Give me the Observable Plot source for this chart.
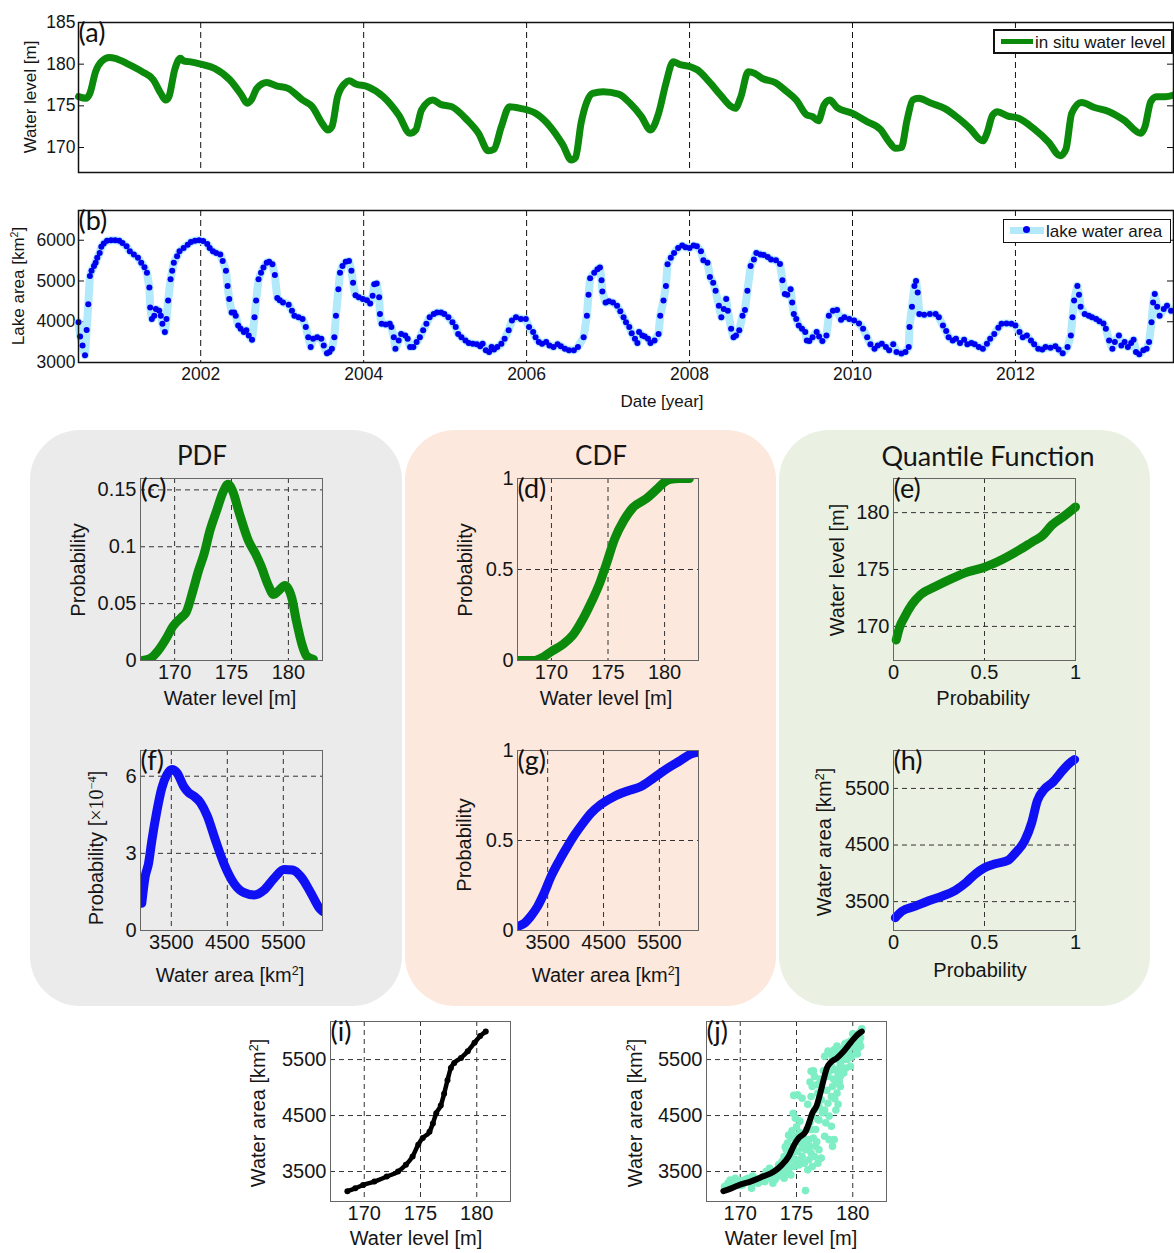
<!DOCTYPE html>
<html><head><meta charset="utf-8">
<script src="https://cdn.jsdelivr.net/npm/d3@7"></script>
<script src="https://cdn.jsdelivr.net/npm/@observablehq/plot@0.6"></script>
<style>
body{margin:0;background:#fff;}
#fig{position:relative;width:1174px;height:1253px;overflow:hidden;font-family:"Liberation Sans",Arial,Helvetica,sans-serif;color:#151515;}
.box{position:absolute;border-radius:50px;}
.lbl{position:absolute;white-space:nowrap;transform:translate(-50%,-50%);line-height:1;}
.lbl sup{font-size:0.62em;vertical-align:0.55em;line-height:0;}
.ttl{font-family:Lato,"Open Sans",sans-serif;}
.leg{position:absolute;background:#fff;border:1.5px solid #111;box-sizing:border-box;font-size:17px;}
</style></head>
<body><div id="fig"></div>
<script>
// ---------- (a) in situ water level ----------
const levelYear = [2000.5,2000.59,2000.64,2000.71,2000.78,2000.88,2000.95,2001.09,2001.28,2001.42,2001.51,2001.57,2001.61,2001.68,2001.75,2001.79,2001.86,2002.0,2002.17,2002.36,2002.5,2002.57,2002.62,2002.69,2002.81,2002.93,2003.07,2003.25,2003.37,2003.49,2003.56,2003.61,2003.68,2003.77,2003.82,2003.91,2004.05,2004.24,2004.43,2004.57,2004.64,2004.71,2004.85,2004.94,2005.08,2005.27,2005.41,2005.53,2005.6,2005.69,2005.79,2005.92,2006.11,2006.29,2006.44,2006.55,2006.6,2006.67,2006.74,2006.81,2006.94,2007.13,2007.27,2007.41,2007.52,2007.62,2007.71,2007.8,2007.87,2008.01,2008.1,2008.24,2008.38,2008.5,2008.56,2008.63,2008.72,2008.8,2008.89,2009.05,2009.17,2009.31,2009.44,2009.51,2009.58,2009.65,2009.72,2009.81,2010.0,2010.18,2010.35,2010.44,2010.53,2010.6,2010.67,2010.74,2010.81,2010.97,2011.13,2011.3,2011.44,2011.6,2011.65,2011.72,2011.78,2011.9,2012.04,2012.22,2012.41,2012.55,2012.62,2012.69,2012.81,2012.97,2013.15,2013.33,2013.54,2013.59,2013.66,2013.73,2013.84,2013.94];
const levelM = [176.1,175.9,176.5,179.1,180.3,180.8,180.7,180.1,179.1,178.1,176.5,175.7,176.1,179.3,180.7,180.4,180.3,180.0,179.5,178.1,176.3,175.3,175.7,177.1,177.8,177.4,177.1,175.7,174.9,172.9,172.1,172.5,176.1,177.7,178.0,177.6,177.3,176.1,173.9,171.7,172.1,174.5,175.7,175.2,174.9,173.3,171.7,169.6,169.8,172.5,174.9,174.7,174.1,172.5,170.4,168.5,168.8,173.0,175.5,176.5,176.7,176.4,175.3,173.7,172.1,174.1,177.7,180.3,180.0,179.7,179.3,177.9,176.3,175.0,174.7,176.1,179.1,178.9,178.3,177.8,176.9,175.7,173.9,173.7,173.2,175.1,175.7,174.8,174.1,173.1,172.1,170.8,169.9,170.0,173.3,175.7,175.9,175.3,174.7,173.5,172.3,170.8,171.7,173.9,174.3,173.8,173.5,172.3,170.6,169.0,169.8,174.1,175.4,174.8,174.3,173.3,171.7,172.5,175.5,176.1,176.1,176.3];

// ---------- (b) lake water area ----------
const areaYear = [2000.5,2000.52,2000.55,2000.58,2000.6,2000.62,2000.64,2000.66,2000.69,2000.71,2000.73,2000.76,2000.78,2000.81,2000.85,2000.9,2000.95,2001.0,2001.04,2001.09,2001.13,2001.18,2001.23,2001.27,2001.31,2001.34,2001.37,2001.38,2001.4,2001.43,2001.45,2001.49,2001.51,2001.53,2001.56,2001.58,2001.6,2001.63,2001.65,2001.67,2001.71,2001.74,2001.79,2001.84,2001.88,2001.93,2001.98,2002.03,2002.08,2002.11,2002.15,2002.19,2002.24,2002.27,2002.31,2002.33,2002.35,2002.38,2002.41,2002.43,2002.46,2002.49,2002.53,2002.56,2002.59,2002.63,2002.66,2002.68,2002.71,2002.74,2002.77,2002.81,2002.84,2002.88,2002.91,2002.94,2002.97,2003.01,2003.08,2003.12,2003.15,2003.2,2003.25,2003.29,2003.32,2003.35,2003.38,2003.43,2003.48,2003.51,2003.55,2003.58,2003.61,2003.64,2003.66,2003.69,2003.71,2003.74,2003.78,2003.82,2003.85,2003.87,2003.9,2003.94,2003.99,2004.04,2004.08,2004.11,2004.13,2004.16,2004.19,2004.2,2004.22,2004.27,2004.32,2004.34,2004.37,2004.39,2004.43,2004.46,2004.51,2004.54,2004.57,2004.61,2004.65,2004.69,2004.73,2004.77,2004.81,2004.86,2004.9,2004.95,2004.99,2005.04,2005.09,2005.13,2005.16,2005.2,2005.25,2005.29,2005.34,2005.39,2005.43,2005.46,2005.5,2005.54,2005.57,2005.6,2005.64,2005.69,2005.73,2005.78,2005.82,2005.87,2005.93,2005.99,2006.03,2006.08,2006.11,2006.15,2006.19,2006.24,2006.28,2006.33,2006.38,2006.42,2006.47,2006.52,2006.58,2006.63,2006.7,2006.74,2006.76,2006.78,2006.83,2006.87,2006.9,2006.92,2006.93,2006.97,2007.01,2007.06,2007.11,2007.15,2007.19,2007.22,2007.26,2007.29,2007.33,2007.36,2007.38,2007.42,2007.45,2007.49,2007.52,2007.57,2007.62,2007.64,2007.68,2007.71,2007.73,2007.77,2007.81,2007.86,2007.91,2007.95,2008.0,2008.05,2008.09,2008.14,2008.17,2008.22,2008.25,2008.29,2008.32,2008.36,2008.39,2008.42,2008.45,2008.47,2008.51,2008.54,2008.57,2008.61,2008.65,2008.68,2008.71,2008.75,2008.79,2008.82,2008.87,2008.91,2008.96,2009.0,2009.06,2009.11,2009.14,2009.17,2009.2,2009.24,2009.26,2009.28,2009.31,2009.34,2009.38,2009.42,2009.44,2009.47,2009.51,2009.56,2009.59,2009.63,2009.68,2009.71,2009.76,2009.81,2009.86,2009.9,2009.96,2010.02,2010.08,2010.13,2010.18,2010.22,2010.27,2010.31,2010.36,2010.41,2010.45,2010.5,2010.54,2010.6,2010.65,2010.69,2010.7,2010.73,2010.76,2010.78,2010.8,2010.82,2010.88,2010.95,2011.02,2011.06,2011.11,2011.15,2011.18,2011.23,2011.27,2011.32,2011.37,2011.41,2011.46,2011.5,2011.55,2011.6,2011.65,2011.69,2011.74,2011.79,2011.83,2011.89,2011.95,2012.0,2012.05,2012.09,2012.14,2012.19,2012.23,2012.28,2012.33,2012.37,2012.43,2012.49,2012.53,2012.58,2012.64,2012.68,2012.7,2012.72,2012.76,2012.78,2012.8,2012.85,2012.9,2012.94,2012.99,2013.03,2013.08,2013.11,2013.15,2013.19,2013.22,2013.27,2013.3,2013.34,2013.38,2013.42,2013.45,2013.48,2013.52,2013.57,2013.61,2013.64,2013.67,2013.69,2013.71,2013.74,2013.77,2013.82,2013.86,2013.91];
const areaKm2 = [3990,3640,3420,3180,3800,4430,5120,5250,5370,5450,5570,5690,5840,5920,5990,6000,6000,5990,5930,5850,5730,5650,5570,5450,5340,5200,4840,4350,4070,4150,4310,4270,4150,3950,3750,4070,4520,5040,5250,5450,5610,5730,5810,5890,5960,5990,6000,5980,5910,5810,5730,5690,5650,5490,5250,4880,4560,4230,4230,4150,3910,3830,3750,3790,3660,3560,4110,4520,5040,5200,5330,5450,5470,5410,5150,4580,4530,4470,4420,4270,4150,4110,4070,3870,3620,3380,3580,3620,3580,3420,3230,3260,3340,3620,4150,4800,5200,5370,5470,5490,5250,4960,4650,4600,4560,4530,4450,4640,4920,4940,4600,4190,3950,3930,3950,3870,3620,3340,3540,3700,3660,3580,3380,3380,3500,3620,3790,3950,4110,4190,4230,4230,4190,4110,3990,3870,3700,3620,3540,3480,3460,3450,3400,3460,3300,3260,3380,3320,3380,3460,3580,3790,4030,4110,4070,4070,3870,3750,3620,3500,3460,3500,3420,3380,3450,3400,3340,3300,3300,3380,3620,4150,4660,5070,5200,5290,5330,5020,4740,4470,4500,4470,4390,4260,4110,3990,3870,3720,3580,3480,3750,3660,3640,3580,3480,3540,3700,4150,4520,4880,5410,5570,5690,5810,5870,5830,5810,5870,5850,5730,5510,5450,5100,4960,4760,4390,4110,4310,4560,4270,3830,3620,3660,3790,4150,4290,4760,5370,5530,5690,5650,5640,5590,5530,5510,5420,5020,4680,4660,4800,4470,4190,4070,3910,3830,3750,3540,3530,3620,3750,3640,3530,3660,4150,4270,4290,4050,4110,4070,4030,3960,3830,3620,3450,3340,3420,3460,3380,3300,3450,3260,3220,3260,3380,3870,4370,4880,5000,4720,4190,4170,4190,4190,4110,3910,3770,3620,3540,3580,3480,3560,3450,3480,3450,3380,3340,3460,3580,3700,3850,3950,3960,3950,3910,3750,3620,3660,3540,3450,3340,3320,3380,3360,3400,3320,3230,3380,3660,4110,4520,4880,4660,4370,4190,4150,4110,4070,4010,3960,3830,3540,3340,3500,3660,3420,3500,3380,3480,3560,3260,3200,3300,3340,3500,3990,4470,4680,4370,4150,4310,4390,4270];
const yearTicks = [2002,2004,2006,2008,2010,2012];

// ---------- (c) PDF of water level ----------
const pdfLevelM = [167.2,167.9,168.5,169.3,169.85,170.6,171.0,171.6,172.1,172.6,173.1,173.7,174.3,174.7,175.1,175.7,176.5,177.1,177.6,178.2,178.7,179.1,179.7,180.3,180.7,181.2,181.6,182.2];
const pdfLevelP = [0,0.002,0.008,0.02,0.03,0.038,0.042,0.061,0.079,0.094,0.114,0.132,0.149,0.155,0.149,0.129,0.105,0.094,0.083,0.067,0.058,0.061,0.066,0.055,0.035,0.014,0.004,0.001];
// ---------- (d) CDF of water level ----------
const cdfLevelM = [167.1,168.4,169.3,170.0,171.0,171.9,172.8,173.6,174.3,174.8,175.6,176.4,177.2,178.4,179.3,180.1,180.5,181.3,182.2];
const cdfLevelP = [0,0,0.02,0.05,0.088,0.14,0.23,0.33,0.43,0.52,0.67,0.77,0.84,0.89,0.94,0.985,0.995,1,1];
// ---------- (e) quantile function of water level ----------
const qLevelP = [0.015,0.033,0.06,0.1,0.15,0.23,0.32,0.41,0.5,0.6,0.69,0.76,0.82,0.87,0.93,0.985,1.0];
const qLevelM = [168.8,169.9,170.8,171.9,172.8,173.5,174.2,174.8,175.2,175.9,176.7,177.4,178.0,178.9,179.6,180.3,180.5];
// ---------- (f) PDF of water area (x 1e-4) ----------
const pdfAreaKm2 = [2973,3033,3093,3153,3243,3332,3422,3512,3602,3722,3811,3901,4021,4141,4290,4440,4620,4800,4980,5160,5335,5515,5665,5815,5995,6144,6204];
const pdfAreaP = [1.06,2.09,2.6,3.5,4.65,5.55,6.06,6.26,6.13,5.6,5.36,5.23,4.97,4.46,3.5,2.6,1.83,1.47,1.38,1.58,2.03,2.37,2.35,2.09,1.45,0.87,0.74];
// ---------- (g) CDF of water area ----------
const cdfAreaKm2 = [2975,3080,3200,3320,3440,3560,3710,3860,3980,4130,4270,4450,4690,4930,5170,5410,5640,5880,6060,6180];
const cdfAreaP = [0.024,0.04,0.08,0.134,0.21,0.3,0.39,0.47,0.53,0.595,0.65,0.7,0.745,0.775,0.8,0.85,0.9,0.945,0.98,0.99];
// ---------- (h) quantile function of water area ----------
const qAreaP = [0.01,0.046,0.12,0.19,0.27,0.34,0.4,0.45,0.5,0.56,0.63,0.67,0.72,0.76,0.79,0.83,0.875,0.93,0.965,0.995];
const qAreaKm2 = [3215,3330,3420,3510,3600,3700,3840,3990,4100,4170,4230,4360,4570,4900,5280,5490,5610,5820,5940,6010];
// ---------- (i)/(j) quantile-matched level vs area ----------
const qqLevelM = [168.5,169.2,169.9,170.9,172.0,173.0,173.7,174.3,174.8,175.2,175.8,176.1,176.4,176.8,177.1,177.4,177.7,178.0,178.6,179.2,179.8,180.3,180.8];
const qqAreaKm2 = [3150,3200,3260,3320,3410,3500,3620,3770,3980,4100,4210,4360,4540,4680,4890,5130,5350,5440,5530,5650,5800,5920,6000];
// ---------- (j) observed pairs ----------
const pairLevelM = [168.6,168.9,169.1,169.35,169.55,169.8,170.1,170.2,170.5,170.8,171.0,171.3,171.6,171.7,172.0,172.2,172.4,172.7,172.9,173.0,173.3,173.5,173.6,173.8,173.9,174.1,174.2,174.4,174.5,174.7,
 173.9,174.1,174.2,174.4,174.5,174.75,174.9,175.0,175.1,175.25,175.4,175.5,175.7,175.8,176.0,176.1,176.3,176.4,176.6,176.9,176.7,177.0,177.2,
 175.8,174.7,175.1,175.5,174.75,
 176.1,176.3,176.4,176.6,176.7,176.9,177.0,177.2,176.3,176.4,176.3,176.6,176.9,177.3,177.5,177.6,177.8,177.9,178.1,178.2,178.1,178.35,178.5,178.6,178.8,178.9,177.5,177.9,178.2,178.6,177.8,
 177.5,177.8,178.1,178.35,178.6,178.9,179.2,179.5,179.8,180.1,180.4,180.6,180.7,180.3,179.7,179.2,178.9,179.4,178.6,179.1,180.0,180.6,180.7,179.8,179.5,178.1,178.2,178.5,179.2,178.9,
 168.8,169.2,169.6,170.0,170.4,170.7,171.1,171.4,171.9,172.3,172.6,172.8,173.1,173.4,173.7,174.0,174.3,174.6,174.9,175.2,
 174.0,174.3,174.6,175.0,175.3,175.6,175.9,176.2,175.5,176.5,176.8,175.9,176.2,175.3,174.9,
 176.0,176.2,176.5,176.8,177.1,177.4,177.7,178.0,178.4,178.7,177.3,177.0,178.3,
 178.4,178.8,179.3,179.6,180.0,180.2,180.5,180.8,179.0,179.9,180.4,178.7];
const pairAreaKm2 = [3230,3290,3350,3260,3380,3300,3340,3260,3360,3320,3200,3380,3290,3350,3410,3320,3440,3380,3290,3500,3410,3540,3470,3590,3380,3650,3530,3710,3440,3590,
 3770,3890,4010,3830,4100,3950,3710,4130,3860,3620,4010,3770,3650,3890,3530,3710,3830,3590,3770,3650,3950,3890,3740,
 3160,4540,4870,4810,4860,
 4070,4250,4490,4600,4250,4430,4660,4780,4840,5020,5290,5200,4900,4960,4600,4370,4720,4490,4840,5020,4310,4070,4600,4900,5110,5020,4130,4070,3950,5080,5200,
 5560,5650,5590,5680,5740,5650,5710,5800,5830,5890,5950,5830,5740,5680,5590,5500,5410,5350,5500,5560,5740,5980,5890,5380,5500,5380,5500,5320,5260,5200,
 3200,3230,3300,3250,3300,3380,3420,3300,3330,3500,3560,3440,3360,3620,3680,3480,3560,3800,3600,3700,
 3940,4150,4230,4300,4200,4100,4020,3950,3930,4100,4030,4250,4380,4400,4450,
 4700,5100,5300,5050,5150,5300,4950,5300,4800,4700,4550,4420,5150,
 5580,5600,5780,5650,5960,5800,5700,6050,5330,5550,5600,5250];

// ================= drawing =================
const fig = document.getElementById("fig");
const FONT = '"Liberation Sans", Arial, Helvetica, sans-serif';
const CAL = 'Lato, "Open Sans", sans-serif';
const GREEN = "#0c8a0c", BLUE = "#1010f5";
const dash = {stroke: "#333", strokeDasharray: "5,4", strokeWidth: 1};
const smooth = "monotone-x";

function box(left, top, w, h, color) {
  const d = document.createElement("div");
  d.className = "box";
  Object.assign(d.style, {left: left + "px", top: top + "px", width: w + "px", height: h + "px", background: color});
  fig.append(d);
}
function lab(html, x, y, size = 20, rot = false, cls = "") {
  const d = document.createElement("div");
  d.className = "lbl " + cls;
  d.innerHTML = html;
  d.style.left = x + "px"; d.style.top = y + "px"; d.style.fontSize = size + "px";
  if (rot) d.style.transform = "translate(-50%,-50%) rotate(-90deg)";
  fig.append(d);
}
function panel({left, top, w, h, x, y, marks, fs = 20}) {
  const ML = 80, MR = 10, MT = 10, MB = 40;
  const svg = Plot.plot({
    width: w + ML + MR, height: h + MT + MB,
    marginLeft: ML, marginRight: MR, marginTop: MT, marginBottom: MB,
    style: {fontSize: fs + "px", fontFamily: FONT, color: "#151515", background: "transparent", overflow: "visible", maxWidth: "none"},
    x, y, marks
  });
  svg.style.position = "absolute";
  svg.style.left = (left - ML) + "px";
  svg.style.top = (top - MT) + "px";
  fig.append(svg);
}
const tag = (t) => Plot.text([t], {frameAnchor: "top-left", dx: 0, dy: 0, lineAnchor: "top", textAnchor: "start", fontSize: 27, fontFamily: CAL, fill: "#111"});
const ax = (domain, ticks, extra = {}) => ({domain, ticks, tickSize: 0, tickPadding: 4, tickFormat: d => String(d), label: null, ...extra});

// background boxes
box(30, 430, 372, 576, "#ebebeb");
box(405, 430, 371, 576, "#fce8dd");
box(779, 430, 371, 576, "#eaf1e2");

// (a)
panel({left: 78, top: 22, w: 1095, h: 150, fs: 17.5,
  x: {domain: [2000.5, 2013.94], axis: null},
  y: ax([167, 185], [170, 175, 180, 185], {tickPadding: 3}),
  marks: [
    Plot.ruleX(yearTicks, {stroke: "#111", strokeDasharray: "6,4"}),
    Plot.tickY([170, 175, 180], {insetRight: 1089, stroke: "#111"}),
    Plot.tickY([170, 175, 180], {insetLeft: 1089, stroke: "#111"}),
    Plot.line(levelM, {x: levelYear, y: levelM, stroke: GREEN, strokeWidth: 7, curve: smooth}),
    Plot.frame({stroke: "#111", strokeWidth: 1.5}),
    tag("(a)")
  ]});
// (b)
panel({left: 78, top: 210, w: 1095, h: 152, fs: 17.5,
  x: ax([2000.5, 2013.94], yearTicks, {tickPadding: 5}),
  y: ax([3000, 6730], [3000, 4000, 5000, 6000], {tickPadding: 3}),
  marks: [
    Plot.ruleX(yearTicks, {stroke: "#111", strokeDasharray: "6,4"}),
    Plot.tickY([4000, 5000, 6000], {insetRight: 1089, stroke: "#111"}),
    Plot.tickY([4000, 5000, 6000], {insetLeft: 1089, stroke: "#111"}),
    Plot.line(areaKm2, {x: areaYear, y: areaKm2, stroke: "#b2e9fb", strokeWidth: 8}),
    Plot.dot(areaKm2, {x: areaYear, y: areaKm2, r: 3, fill: "#0000f0", stroke: "none"}),
    Plot.frame({stroke: "#111", strokeWidth: 1.5}),
    tag("(b)")
  ]});

// (c)
panel({left: 140, top: 478, w: 182, h: 182,
  x: ax([167, 183], [170, 175, 180]), y: ax([0, 0.16], [0, 0.05, 0.1, 0.15]),
  marks: [Plot.ruleX([170, 175, 180], dash), Plot.ruleY([0.05, 0.1, 0.15], dash),
    Plot.line(pdfLevelP, {x: pdfLevelM, y: pdfLevelP, stroke: GREEN, strokeWidth: 9, clip: true, curve: smooth}),
    Plot.frame({stroke: "#666"}), tag("(c)")]});
// (d)
panel({left: 517, top: 478, w: 181, h: 182,
  x: ax([167, 183], [170, 175, 180]), y: ax([0, 1], [0, 0.5, 1]),
  marks: [Plot.ruleX([170, 175, 180], dash), Plot.ruleY([0.5], dash),
    Plot.line(cdfLevelP, {x: cdfLevelM, y: cdfLevelP, stroke: GREEN, strokeWidth: 9, clip: true, curve: smooth}),
    Plot.frame({stroke: "#666"}), tag("(d)")]});
// (e)
panel({left: 893, top: 478, w: 182, h: 182,
  x: ax([0, 1], [0, 0.5, 1]), y: ax([167, 183], [170, 175, 180]),
  marks: [Plot.ruleX([0.5], dash), Plot.ruleY([170, 175, 180], dash),
    Plot.line(qLevelM, {x: qLevelP, y: qLevelM, stroke: GREEN, strokeWidth: 9, curve: smooth}),
    Plot.frame({stroke: "#666"}), tag("(e)")]});
// (f)
panel({left: 140, top: 750, w: 182, h: 180,
  x: ax([2950, 6200], [3500, 4500, 5500]), y: ax([0, 7], [0, 3, 6]),
  marks: [Plot.ruleX([3500, 4500, 5500], dash), Plot.ruleY([3, 6], dash),
    Plot.line(pdfAreaP, {x: pdfAreaKm2, y: pdfAreaP, stroke: BLUE, strokeWidth: 9, clip: true, curve: smooth}),
    Plot.frame({stroke: "#666"}), tag("(f)")]});
// (g)
panel({left: 517, top: 750, w: 181, h: 180,
  x: ax([2960, 6200], [3500, 4500, 5500]), y: ax([0, 1], [0, 0.5, 1]),
  marks: [Plot.ruleX([3500, 4500, 5500], dash), Plot.ruleY([0.5], dash),
    Plot.line(cdfAreaP, {x: cdfAreaKm2, y: cdfAreaP, stroke: BLUE, strokeWidth: 9, clip: true, curve: smooth}),
    Plot.frame({stroke: "#666"}), tag("(g)")]});
// (h)
panel({left: 893, top: 750, w: 182, h: 180,
  x: ax([0, 1], [0, 0.5, 1]), y: ax([2990, 6170], [3500, 4500, 5500]),
  marks: [Plot.ruleX([0.5], dash), Plot.ruleY([3500, 4500, 5500], dash),
    Plot.line(qAreaKm2, {x: qAreaP, y: qAreaKm2, stroke: BLUE, strokeWidth: 9, curve: smooth}),
    Plot.frame({stroke: "#666"}), tag("(h)")]});
// (i)
panel({left: 330, top: 1021, w: 180, h: 180,
  x: ax([167, 183], [170, 175, 180]), y: ax([2965, 6180], [3500, 4500, 5500]),
  marks: [Plot.ruleX([170, 175, 180], dash), Plot.ruleY([3500, 4500, 5500], dash),
    Plot.line(qqAreaKm2, {x: qqLevelM, y: qqAreaKm2, stroke: "#000", strokeWidth: 4.5, curve: smooth}),
    Plot.dot(qqAreaKm2, {x: qqLevelM, y: qqAreaKm2, r: 3, fill: "#000", stroke: "none"}),
    Plot.frame({stroke: "#666"}), tag("(i)")]});
// (j)
panel({left: 706, top: 1021, w: 180, h: 180,
  x: ax([167, 183], [170, 175, 180]), y: ax([2965, 6180], [3500, 4500, 5500]),
  marks: [Plot.ruleX([170, 175, 180], dash), Plot.ruleY([3500, 4500, 5500], dash),
    Plot.dot(pairAreaKm2, {x: pairLevelM, y: pairAreaKm2, r: 3.8, fill: "#7eeec4", stroke: "none"}),
    Plot.line(qqAreaKm2, {x: qqLevelM, y: qqAreaKm2, stroke: "#000", strokeWidth: 6, curve: smooth}),
    Plot.frame({stroke: "#666"}), tag("(j)")]});

// axis labels and titles
lab("Water level [m]", 30, 97, 17, true);
lab("Lake area [km<sup>2</sup>]", 18, 286, 17, true);
lab("Date [year]", 662, 401, 17);
lab("PDF", 202, 455, 26, false, "ttl");
lab("CDF", 601, 455, 26, false, "ttl");
lab("Quantile Function", 988, 455, 27, false, "ttl");
lab("Probability", 78, 570, 20, true);
lab("Water level [m]", 230, 698, 20);
lab("Probability", 465, 570, 20, true);
lab("Water level [m]", 606, 698, 20);
lab("Water level [m]", 837, 570, 20, true);
lab("Probability", 983, 698, 20);
lab('Probability [<span style="font-family:\'Liberation Serif\',serif">&times;10<sup>&minus;4</sup></span>]', 96, 848, 20, true);
lab("Water area [km<sup>2</sup>]", 230, 975, 20);
lab("Probability", 464, 845, 20, true);
lab("Water area [km<sup>2</sup>]", 606, 975, 20);
lab("Water area [km<sup>2</sup>]", 824, 842, 20, true);
lab("Probability", 980, 970, 20);
lab("Water area [km<sup>2</sup>]", 258, 1113, 20, true);
lab("Water level [m]", 416, 1238, 20);
lab("Water area [km<sup>2</sup>]", 635, 1113, 20, true);
lab("Water level [m]", 791, 1238, 20);

// legends
const la = document.createElement("div");
la.className = "leg";
Object.assign(la.style, {left: "993px", top: "29px", width: "180px", height: "25px", border: "2px solid #111"});
la.innerHTML = '<div style="position:absolute;left:6px;top:8px;width:32px;height:5px;background:' + GREEN + '"></div><div style="position:absolute;left:40px;top:2px;">in situ water level</div>';
fig.append(la);
const lb = document.createElement("div");
lb.className = "leg";
Object.assign(lb.style, {left: "1003px", top: "219px", width: "168px", height: "24px"});
lb.innerHTML = '<div style="position:absolute;left:6px;top:7px;width:34px;height:7px;background:#b2e9fb"></div><div style="position:absolute;left:19px;top:6px;width:7px;height:7px;border-radius:50%;background:#0000f0"></div><div style="position:absolute;left:42px;top:2px;">lake water area</div>';
fig.append(lb);
</script>
</body></html>
